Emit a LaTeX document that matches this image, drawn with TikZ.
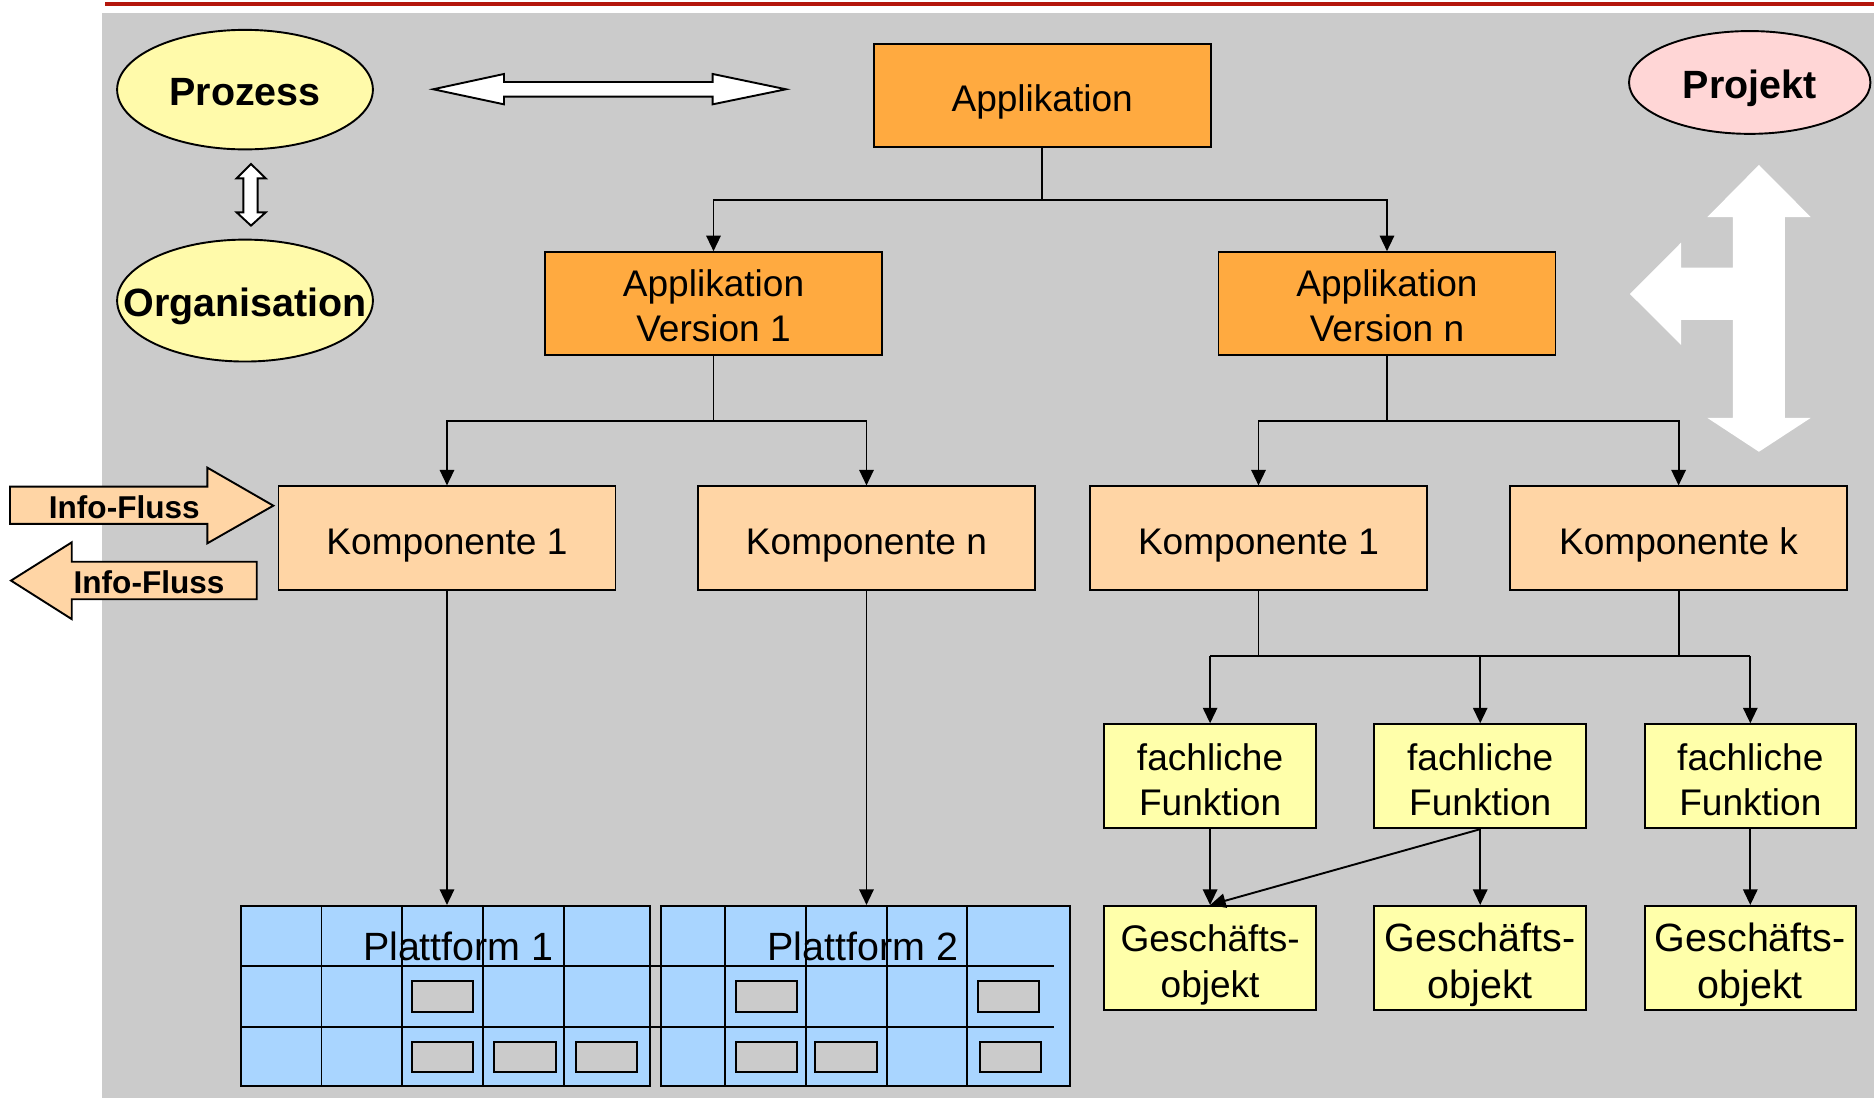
\documentclass[tikz,border=0pt]{standalone}
\usepackage{fontspec}
\setmainfont{Liberation Sans}
\usetikzlibrary{arrows.meta,shapes.geometric}
\definecolor{bg}{RGB}{203,203,203}
\definecolor{redline}{RGB}{180,22,12}
\definecolor{orangebox}{RGB}{255,170,64}
\definecolor{peach}{RGB}{255,213,165}
\definecolor{lyellow}{RGB}{255,255,170}
\definecolor{eyellow}{RGB}{255,250,170}
\definecolor{pinkfill}{RGB}{255,214,214}
\definecolor{pblue}{RGB}{169,213,255}
\begin{document}
\begin{tikzpicture}[x=0.5pt,y=-0.5pt,
  box/.style={draw=black, line width=0.8pt, inner sep=0pt, align=center,
    font=\fontsize{15.5}{18.5}\selectfont},
  oneline/.style={text height=13.4pt, text depth=0pt},
  appbox/.style={box, fill=orangebox, minimum width=141pt, minimum height=43pt},
  twoapp/.style={text height=31.4pt, text depth=0pt},
  compbox/.style={box, fill=peach, minimum width=141pt, minimum height=43.5pt, oneline},
  funcbox/.style={box, fill=lyellow, minimum width=88.5pt, minimum height=43.5pt,
    font=\fontsize{15.5}{19}\selectfont, text height=33.1pt, text depth=0pt},
  objbox/.style={box, fill=lyellow, minimum width=88.5pt, minimum height=43.5pt,
    font=\fontsize{16.5}{19.5}\selectfont, text height=34pt, text depth=0pt},
  ell/.style={ellipse, draw=black, line width=0.8pt, inner sep=0pt, oneline,
    font=\bfseries\fontsize{16.5}{19}\selectfont},
  plat/.style={draw=black, line width=0.8pt, fill=pblue, inner sep=0pt,
    minimum width=171pt, minimum height=75.5pt},
  platlabel/.style={inner sep=0pt, font=\fontsize{16.5}{19}\selectfont},
  cell/.style={draw=black, line width=0.8pt},
  slot/.style={draw=black, line width=0.8pt, fill=bg},
  line/.style={draw=black, line width=0.8pt},
  conn/.style={line, -{Triangle[length=6.5pt,width=6pt]}},
  blockarrow/.style={draw=black, line width=0.8pt, fill=white},
  infoarrow/.style={draw=black, line width=0.8pt, fill=peach},
  infotext/.style={inner sep=0pt, font=\bfseries\fontsize{13.2}{15}\selectfont}
]
\useasboundingbox (0,0) rectangle (1568,919);
\fill[white] (0,0) rectangle (1568,919);
\fill[bg] (85.3,10.6) rectangle (1568,919);
\draw[redline, line width=1.4pt] (88,3.4) -- (1568,3.4);

% ellipses
\node[ell, fill=eyellow, minimum width=107pt, minimum height=50pt] (prozess) at (205,75) {\makebox[0pt]{Prozess}};
\node[ell, fill=eyellow, minimum width=107pt, minimum height=51pt] (org) at (205,251.5) {\makebox[0pt]{Organisation}};
\node[ell, fill=pinkfill, minimum width=101pt, minimum height=43pt] (projekt) at (1464,69) {\makebox[0pt]{Projekt}};

% white double arrows
\draw[blockarrow] (362.5,74.7) -- (421.7,61.9) -- (421.7,68.6) -- (596.3,68.6) -- (596.3,61.9)
  -- (657.6,74.7) -- (596.3,87.3) -- (596.3,80.9) -- (421.7,80.9) -- (421.7,87.3) -- cycle;
\draw[blockarrow] (210,137.2) -- (222.3,149.2) -- (215.6,149.2) -- (215.6,177.7) -- (222.3,177.7)
  -- (210,188.8) -- (198,177.7) -- (203.6,177.7) -- (203.6,149.2) -- (198,149.2) -- cycle;

% big white three-way arrow
\fill[white] (1471.7,138) -- (1515,181.6) -- (1493.5,181.6) -- (1493.5,349.7) -- (1515,349.7)
  -- (1471.7,378) -- (1428.6,349.7) -- (1450,349.7) -- (1450,267.7) -- (1406.6,267.7)
  -- (1406.6,288.6) -- (1363.8,246) -- (1406.6,203) -- (1406.6,224) -- (1450,224)
  -- (1450,181.6) -- (1428.6,181.6) -- cycle;

% Info-Fluss arrows
\draw[infoarrow] (8.4,407.2) -- (173.5,407.2) -- (173.5,391.3) -- (228.7,423.1) -- (173.5,454.6)
  -- (173.5,438.4) -- (8.4,438.4) -- cycle;
\node[infotext] (info1) at (104,424) {Info-Fluss};
\draw[infoarrow] (9.2,485.8) -- (60,453.8) -- (60,470) -- (214.8,470) -- (214.8,501.4)
  -- (60,501.4) -- (60,518) -- cycle;
\node[infotext] (info2) at (124.7,487) {Info-Fluss};

% application boxes
\node[appbox, oneline] (app) at (872,80) {Applikation};
\node[appbox, twoapp] (v1) at (597,254) {Applikation\\Version 1};
\node[appbox, twoapp] (vn) at (1160.5,254) {Applikation\\Version n};

% components
\node[compbox] (k1) at (374,450.5) {Komponente 1};
\node[compbox] (kn) at (725,450.5) {Komponente n};
\node[compbox] (k1r) at (1053,450.5) {Komponente 1};
\node[compbox] (kk) at (1404.5,450.5) {Komponente k};

% functions and objects
\node[funcbox] (f1) at (1012.5,649.5) {fachliche\\Funktion};
\node[funcbox] (f2) at (1238.5,649.5) {fachliche\\Funktion};
\node[funcbox] (f3) at (1464.5,649.5) {fachliche\\Funktion};
\node[objbox, font=\fontsize{15.5}{19}\selectfont, text height=33pt] (g1) at (1012.5,801.5) {Geschäfts-\\objekt};
\node[objbox] (g2) at (1238.5,801.5) {Geschäfts-\\objekt};
\node[objbox] (g3) at (1464.5,801.5) {Geschäfts-\\objekt};

% platforms
\node[plat] (p1) at (373,833.5) {};
\node[plat] (p2) at (724,833.5) {};
\foreach \x in {269,336,404,472} \draw[cell] (\x,758) -- (\x,909);
\foreach \x in {606.6,674,742,809} \draw[cell] (\x,758) -- (\x,909);
\foreach \y in {808,859} \draw[cell] (202,\y) -- (882,\y);
\draw[slot] (344.4,821) rectangle (396,847);
\draw[slot] (344.4,871.5) rectangle (396,897);
\draw[slot] (413.6,871.5) rectangle (465,897);
\draw[slot] (482,871.5) rectangle (533,897);
\draw[slot] (616,821) rectangle (667,847);
\draw[slot] (818,821) rectangle (869,847);
\draw[slot] (616,871.5) rectangle (667,897);
\draw[slot] (682,871.5) rectangle (733.5,897);
\draw[slot] (819.7,871.5) rectangle (871,897);
\node[platlabel] (pl1) at (383.5,792) {Plattform 1};
\node[platlabel] (pl2) at (722,792) {Plattform 2};

% connectors
\coordinate (b1) at (872,167);
\draw[conn] (app.south) -- (b1) -| (v1.north);
\draw[conn] (b1) -| (vn.north);
\coordinate (b2) at (597,352);
\draw[conn] (v1.south) -- (b2) -| (k1.north);
\draw[conn] (b2) -| (kn.north);
\coordinate (b3) at (1160.5,352);
\draw[conn] (vn.south) -- (b3) -| (k1r.north);
\draw[conn] (b3) -| (kk.north);
\draw[conn] (k1.south) -- (k1.south |- p1.north);
\draw[conn] (kn.south) -- (kn.south |- p2.north);
\coordinate (b4) at (1053,549);
\coordinate (b5) at (1404.5,549);
\draw[line] (k1r.south) -- (b4);
\draw[line] (kk.south) -- (b5);
\draw[line] (f1.north |- b4) -- (f3.north |- b4);
\draw[conn] (f1.north |- b4) -- (f1.north);
\draw[conn] (f2.north |- b4) -- (f2.north);
\draw[conn] (f3.north |- b4) -- (f3.north);
\draw[conn] (f1.south) -- (g1.north);
\draw[conn] (f2.south) -- (g2.north);
\draw[conn] (f3.south) -- (g3.north);
\draw[conn] (f2.south) -- (g1.north);
\end{tikzpicture}
\end{document}
